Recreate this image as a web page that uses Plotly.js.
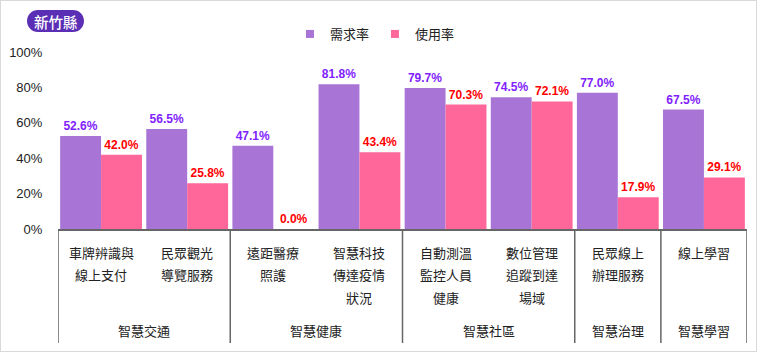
<!DOCTYPE html>
<html>
<head>
<meta charset="utf-8">
<script src="https://cdn.plot.ly/plotly-3.0.1.min.js"></script>
<style>
  html, body { margin: 0; padding: 0; background: #fff; }
  #chart { width: 755px; height: 350px; border: 1px solid #d9d9d9; }
</style>
</head>
<body>
<div id="chart"></div>
<script>
// ---- data ----
const categoryLines = [
  ['車牌辨識與', '線上支付'],
  ['民眾觀光', '導覽服務'],
  ['遠距醫療', '照護'],
  ['智慧科技', '傳達疫情', '狀況'],
  ['自動測溫', '監控人員', '健康'],
  ['數位管理', '追蹤到達', '場域'],
  ['民眾線上', '辦理服務'],
  ['線上學習']
];
const demandRate = [52.6, 56.5, 47.1, 81.8, 79.7, 74.5, 77.0, 67.5];
const usageRate  = [42.0, 25.8, 0.0, 43.4, 70.3, 72.1, 17.9, 29.1];
const groupNames = ['智慧交通', '智慧健康', '智慧社區', '智慧治理', '智慧學習'];
const groupFirst = [0, 2, 4, 6, 7];
const groupLast  = [1, 3, 5, 6, 7];
const seriesNames = ['需求率', '使用率'];
const yTicks = [0, 20, 40, 60, 80, 100];
const badgeText = '新竹縣';

// ---- styles ----
const purple = '#A874D6';
const pink = '#FF6699';
const purpleText = '#7F22FF';
const redText = '#FF0000';
const cjk = '"Noto Sans CJK TC", "Noto Sans CJK SC", sans-serif';
const latin = 'Arial, "Liberation Sans", sans-serif';
const axisGray = '#666666';

const categories = categoryLines.map(l => l.join(''));
const seriesValues = [demandRate, usageRate];
const seriesColors = [purple, pink];
const labelColors = [purpleText, redText];

const traces = [];
seriesValues.forEach((vals, s) => {
  traces.push({
    type: 'bar', name: seriesNames[s], x: categories, y: vals,
    marker: { color: seriesColors[s] },
    texttemplate: '%{y:.1f}%', textposition: 'outside', constraintext: 'none',
    cliponaxis: false, showlegend: false,
    textfont: { family: latin, size: 12, color: labelColors[s], weight: 'bold' },
    hoverinfo: 'skip'
  });
});
// legend entries (small square swatches, no data drawn)
seriesNames.forEach((n, s) => {
  traces.push({
    type: 'scatter', mode: 'markers', name: n, x: [null], y: [null],
    marker: { symbol: 'square', size: 8, color: seriesColors[s] },
    showlegend: true, hoverinfo: 'skip'
  });
});

// geometry helpers (pixels below the x axis line)
const plotH = 177;
const lineCenters = [23, 45, 68];
const groupCenter = 101.5;
const dividerLen = 114;

const annotations = [];
categoryLines.forEach((lines, i) => {
  lines.forEach((t, j) => {
    annotations.push({
      xref: 'x', yref: 'paper', x: categories[i], y: 0,
      xanchor: 'center', yanchor: 'middle', yshift: -lineCenters[j],
      text: t, showarrow: false,
      font: { family: cjk, size: 13, color: '#222' }
    });
  });
});
groupNames.forEach((g, k) => {
  annotations.push({
    xref: 'x', yref: 'paper', x: (groupFirst[k] + groupLast[k]) / 2, y: 0,
    xanchor: 'center', yanchor: 'middle', yshift: -groupCenter,
    text: g, showarrow: false,
    font: { family: cjk, size: 13, color: '#222' }
  });
});
// badge text
annotations.push({
  xref: 'paper', yref: 'paper', x: 0, y: 1, xanchor: 'center', yanchor: 'middle',
  xshift: -2.5, yshift: 31, text: badgeText, showarrow: false,
  font: { family: cjk, size: 14.5, color: '#ffffff', weight: 500 }
});

const shapes = [];
const dividerPos = [groupFirst[0] - 0.5].concat(groupLast.map(v => v + 0.5));
dividerPos.forEach(p => {
  shapes.push({
    type: 'line', xref: 'x', yref: 'paper', x0: p, x1: p,
    y0: 0, y1: -dividerLen / plotH,
    line: { color: axisGray, width: 1.5 }
  });
});
// rounded badge
shapes.push({
  type: 'path', xref: 'paper', yref: 'paper',
  xsizemode: 'pixel', ysizemode: 'pixel', xanchor: 0, yanchor: 1,
  path: 'M -20,42 L 15,42 C 21.1,42 26,37.1 26,31 C 26,24.9 21.1,20 15,20 L -20,20 C -26.1,20 -31,24.9 -31,31 C -31,37.1 -26.1,42 -20,42 Z',
  fillcolor: '#5B2FB5', line: { width: 0 }, layer: 'above'
});

const layout = {
  width: 755, height: 350,
  margin: { l: 57, r: 9, t: 51, b: 122 },
  paper_bgcolor: '#ffffff', plot_bgcolor: '#ffffff',
  barmode: 'group', bargap: 0.05, bargroupgap: 0,
  showlegend: true,
  legend: {
    orientation: 'h', x: 0.46, xanchor: 'center', y: 1 + (51 - 33) / plotH, yanchor: 'middle',
    yref: 'paper', font: { family: cjk, size: 13, color: '#222' },
    bgcolor: 'rgba(0,0,0,0)', entrywidth: 40, entrywidthmode: 'pixels',
    itemwidth: 30
  },
  xaxis: {
    type: 'category', range: [-0.5, 7.5], showticklabels: false,
    showline: true, linecolor: axisGray, linewidth: 1.5,
    showgrid: false, zeroline: false, ticks: '', fixedrange: true
  },
  yaxis: {
    range: [0, 100], tickvals: yTicks, ticktext: yTicks.map(v => v + '%'),
    showgrid: false, zeroline: false, showline: false,
    ticks: 'outside', ticklen: 12, tickcolor: 'rgba(0,0,0,0)',
    tickfont: { family: latin, size: 13, color: '#222' }, fixedrange: true
  },
  annotations: annotations,
  shapes: shapes
};

Plotly.newPlot('chart', traces, layout, { displayModeBar: false, staticPlot: true });
</script>
</body>
</html>
